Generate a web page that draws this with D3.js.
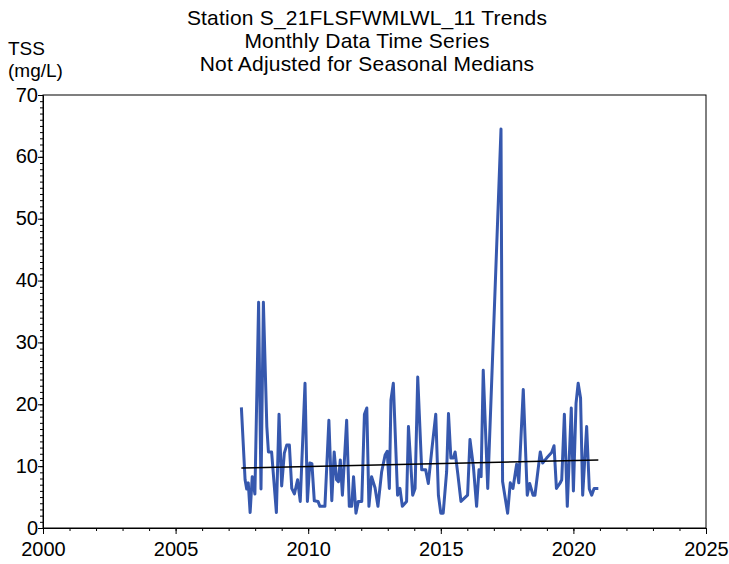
<!DOCTYPE html>
<html><head><meta charset="utf-8">
<script src="https://cdn.jsdelivr.net/npm/d3@7"></script>
<style>
body{margin:0;background:#fff;}
text{font-family:"Liberation Sans",Arial,sans-serif;fill:#000;}
</style></head>
<body><svg id="c" width="729" height="564"></svg>
<script>
const titleLines = ["Station S_21FLSFWMLWL_11 Trends","Monthly Data Time Series","Not Adjusted for Seasonal Medians"];
const yLabelLines = ["TSS","(mg/L)"];
const xTicks = [2000,2005,2010,2015,2020,2025];
const yTicks = [0,10,20,30,40,50,60,70];
const dates = [2007.48,2007.62,2007.68,2007.74,2007.81,2007.89,2007.99,2008.13,2008.22,2008.31,2008.44,2008.50,2008.62,2008.80,2008.90,2009.00,2009.10,2009.19,2009.29,2009.38,2009.48,2009.60,2009.70,2009.88,2009.97,2010.06,2010.14,2010.23,2010.37,2010.44,2010.63,2010.78,2010.89,2010.98,2011.07,2011.14,2011.21,2011.29,2011.45,2011.55,2011.64,2011.71,2011.80,2011.89,2012.02,2012.12,2012.21,2012.29,2012.39,2012.52,2012.63,2012.77,2012.90,2012.98,2013.06,2013.12,2013.21,2013.37,2013.46,2013.55,2013.71,2013.78,2013.94,2014.03,2014.13,2014.28,2014.43,2014.53,2014.66,2014.81,2014.91,2015.00,2015.09,2015.22,2015.29,2015.38,2015.47,2015.54,2015.64,2015.76,2016.01,2016.10,2016.23,2016.35,2016.44,2016.52,2016.60,2016.77,2017.27,2017.33,2017.52,2017.62,2017.72,2017.86,2017.94,2018.11,2018.26,2018.35,2018.48,2018.55,2018.75,2018.84,2018.99,2019.18,2019.27,2019.36,2019.49,2019.56,2019.66,2019.77,2019.92,2020.00,2020.10,2020.18,2020.27,2020.35,2020.50,2020.60,2020.69,2020.78,2020.94];
const tss = [19.5,7.8,6.3,7.3,2.5,8.3,5.5,36.5,6.3,36.5,16.4,12.3,12.3,2.5,18.4,6.8,12.1,13.4,13.4,6.4,5.5,7.8,4.3,23.4,4.3,10.5,10.4,4.4,4.3,3.5,3.5,17.4,4.4,12.3,7.8,7.5,11.0,5.3,17.4,3.5,3.5,8.3,2.4,4.3,4.3,18.4,19.4,3.5,8.3,6.5,3.5,9.1,11.8,12.4,6.4,20.7,23.4,5.3,6.4,3.5,4.3,16.4,5.3,6.4,24.4,9.4,9.4,7.2,12.6,18.4,5.3,2.4,2.4,9.1,18.5,11.3,11.3,12.3,8.8,4.3,5.3,14.3,9.9,3.5,9.4,8.3,25.5,6.4,64.5,7.5,2.4,7.3,6.4,10.3,7.3,22.4,5.3,7.2,5.3,5.3,12.3,10.5,11.3,12.2,13.3,6.4,7.2,7.8,18.4,3.5,19.4,6.0,20.2,23.4,21.0,5.3,16.4,6.3,5.3,6.4,6.4];
const trendDates = [2007.48,2020.94];
const trendValues = [9.7,11.0];

const svg = d3.select("#c");
const L=43,R=706,T=95,B=528;
const x = d3.scaleLinear().domain([2000,2025]).range([L,R]);
const y = d3.scaleLinear().domain([0,70]).range([B,T]);

// frame
svg.append("rect").attr("x",L).attr("y",T).attr("width",R-L).attr("height",B-T)
  .attr("fill","none").attr("stroke","#000").attr("stroke-width",1);

// x axis
const gx = svg.append("g").attr("transform",`translate(0,${B})`);
gx.call(d3.axisBottom(x).tickValues(d3.range(2000,2026,1)).tickSize(3).tickFormat(""))
  .call(g=>g.select(".domain").remove());
gx.append("g").call(d3.axisBottom(x).tickValues(xTicks).tickSize(6).tickFormat(d3.format("d")))
  .call(g=>g.select(".domain").attr("stroke","#000"))
  .call(g=>g.selectAll("text").attr("font-size",20).attr("dy",0).attr("y",28));

// y axis
const gy = svg.append("g").attr("transform",`translate(${L},0)`);
gy.call(d3.axisLeft(y).tickValues(d3.range(0,71,1)).tickSize(3).tickFormat(""))
  .call(g=>g.select(".domain").remove());
gy.append("g").call(d3.axisLeft(y).tickValues(yTicks).tickSize(5).tickFormat(d3.format("d")))
  .call(g=>g.select(".domain").attr("stroke","#000"))
  .call(g=>g.selectAll("text").attr("font-size",20).attr("x",-5).attr("dy","0.3em"));

// data line
const pts = dates.map((d,i)=>[d,tss[i]]);
svg.append("path").datum(pts)
  .attr("fill","none").attr("stroke","#3658ae").attr("stroke-width",3).attr("stroke-linejoin","round")
  .attr("d",d3.line().x(d=>x(d[0])).y(d=>y(d[1])));

// trend line
svg.append("path").datum(trendDates.map((d,i)=>[d,trendValues[i]]))
  .attr("fill","none").attr("stroke","#000").attr("stroke-width",1.5)
  .attr("d",d3.line().x(d=>x(d[0])).y(d=>y(d[1])));

// titles
titleLines.forEach((t,i)=>svg.append("text").attr("x",367).attr("y",25+i*23)
  .attr("text-anchor","middle").attr("font-size",21).attr("letter-spacing",0.2).text(t));
yLabelLines.forEach((t,i)=>svg.append("text").attr("x",8).attr("y",55+i*22)
  .attr("font-size",19).text(t));
</script></body></html>
